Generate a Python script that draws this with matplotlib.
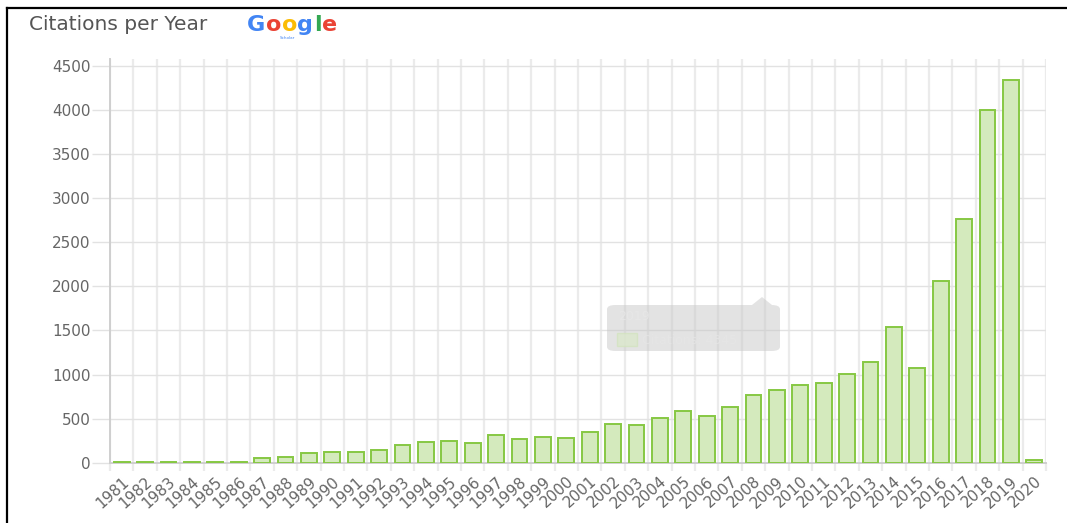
import matplotlib.pyplot as plt
from matplotlib.patches import FancyBboxPatch, Polygon, Rectangle
from matplotlib.lines import Line2D

# data
years = list(range(1981, 2021))
citations = [6, 6, 6, 6, 6, 6, 50, 65, 107, 122, 120, 145, 198,
             235, 250, 224, 318, 266, 289, 277,
             345, 440, 425, 505, 584, 531, 636, 773, 823,
             886, 902, 1006, 1142, 1539, 1074, 2058, 2761, 3997, 4345, 27]
y_ticks = [0, 500, 1000, 1500, 2000, 2500, 3000, 3500, 4000, 4500]

W, H = 1067, 523
fig = plt.figure(figsize=(W / 100, H / 100), dpi=100)


def fx(px):
    return px / W


def fy(py):
    # pixel measured from the top
    return 1 - py / H


ax = fig.add_axes([fx(110), fy(462.7), fx(1046) - fx(110), fy(59) - fy(462.7)])

pos = list(range(len(years)))
ax.bar(pos, citations, width=0.68, color="#d4eabd", edgecolor="#86c843",
       linewidth=1.4, zorder=3)

ax.set_xlim(-0.5, len(years) - 0.5)
ax.set_ylim(0, 4500 * 403.7 / 396.7)

# y axis
ax.set_yticks(y_ticks)
ax.set_yticklabels([str(v) for v in y_ticks])
ax.tick_params(axis="y", length=13, width=1, color="#e2e2e2", pad=1,
               labelsize=11, labelcolor="#666666")
ax.grid(axis="y", which="major", color="#e2e2e2", linewidth=1, zorder=0)

# x axis: labels at bars, grid at category edges
ax.set_xticks(pos)
ax.set_xticklabels([str(y) for y in years], rotation=42, ha="right",
                   va="top", rotation_mode="anchor")
ax.tick_params(axis="x", which="major", length=0, pad=8, labelsize=11,
               labelcolor="#666666")
ax.set_xticks([p - 0.5 for p in pos] + [len(years) - 0.5], minor=True)
ax.tick_params(axis="x", which="minor", length=6, width=1.6, color="#ebebeb")
ax.grid(axis="x", which="minor", color="#ebebeb", linewidth=1.6, zorder=0)

for side in ["top", "right"]:
    ax.spines[side].set_visible(False)
ax.spines["left"].set_color("#cfcfcf")
ax.spines["left"].set_linewidth(1.4)
ax.spines["bottom"].set_color("#cfcfcf")
ax.spines["bottom"].set_linewidth(1.4)
ax.set_axisbelow(True)

# header
fig.text(fx(29), fy(24), "Citations per Year", fontsize=14.5, color="#555555",
         va="center", ha="left")

# Google logo, letters placed one after another
google = [("G", "#4285F4"), ("o", "#EA4335"), ("o", "#FBBC05"),
          ("g", "#4285F4"), ("l", "#34A853"), ("e", "#EA4335")]
renderer = fig.canvas.get_renderer()
x0 = 247
for ch, col in google:
    t = fig.text(fx(x0), fy(25), ch, fontsize=16, fontweight="bold", color=col,
                 va="center", ha="left")
    x0 += t.get_window_extent(renderer).width + 0.5
fig.text(fx(287), fy(38), "Scholar", fontsize=3, color="#4285F4",
         ha="center", va="center")

# faded tooltip
tip = FancyBboxPatch((fx(607), fy(351)), fx(780) - fx(607), fy(305) - fy(351),
                     boxstyle="round,pad=0,rounding_size=0.008",
                     transform=fig.transFigure, facecolor="#c8c8c8",
                     edgecolor="none", alpha=0.5, zorder=5)
fig.add_artist(tip)
caret = Polygon([(fx(752), fy(305)), (fx(762), fy(297)), (fx(772), fy(305))],
                closed=True, transform=fig.transFigure, facecolor="#c8c8c8",
                edgecolor="none", alpha=0.5, zorder=5)
fig.add_artist(caret)
fig.text(fx(618), fy(316), "2019", fontsize=9, color="#e8e8e8", alpha=0.8,
         va="center", ha="left", zorder=6)
fig.add_artist(Rectangle((fx(617), fy(346)), fx(637) - fx(617), fy(333) - fy(346),
                         transform=fig.transFigure, facecolor="#dbe8cc",
                         edgecolor="#d3e3c0", alpha=0.8, zorder=6))
fig.text(fx(642), fy(340), "Citations: 4345", fontsize=9, color="#e6e6e6",
         alpha=0.8, va="center", ha="left", zorder=6)

# black frame lines at top and left
fig.add_artist(Line2D([fx(7), 1], [fy(8), fy(8)], color="black", linewidth=1.6,
                      transform=fig.transFigure))
fig.add_artist(Line2D([fx(7), fx(7)], [fy(8), 0], color="black", linewidth=1.6,
                      transform=fig.transFigure))

fig.savefig("out.png", dpi=100)
